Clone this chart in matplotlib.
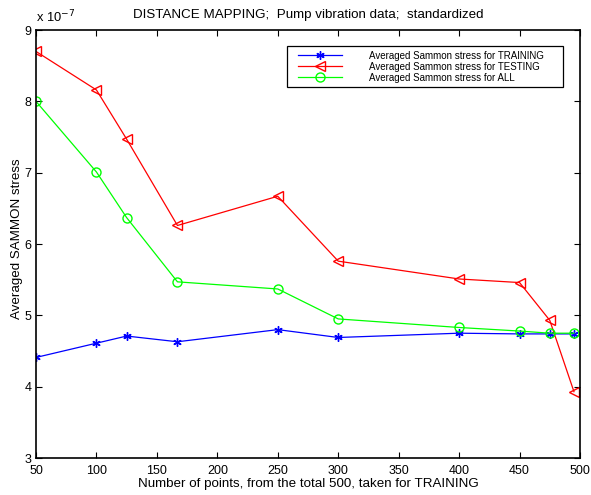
import matplotlib
matplotlib.use("Agg")
import matplotlib.pyplot as plt
from matplotlib.patches import Rectangle

# number of training points taken from the total 500
n_points = [50, 100, 125, 167, 250, 300, 400, 450, 475, 495]

# averaged Sammon stress, in units of 1e-7
stress_training = [4.41, 4.61, 4.71, 4.63, 4.80, 4.69, 4.75, 4.74, 4.74, 4.74]
stress_testing = [8.70, 8.16, 7.47, 6.26, 6.67, 5.76, 5.51, 5.46, 4.93, 3.93]
stress_all = [8.00, 7.01, 6.37, 5.47, 5.37, 4.95, 4.83, 4.78, 4.75, 4.75]

x_ticks = [50, 100, 150, 200, 250, 300, 350, 400, 450, 500]
y_ticks = [3, 4, 5, 6, 7, 8, 9]

plt.rcParams['font.family'] = ['Liberation Sans', 'DejaVu Sans']

fig = plt.figure(figsize=(5.91, 4.95), dpi=100)
ax = fig.add_axes([0.0609, 0.0747, 0.9205, 0.8646])

# matlab-like asterisk: 6 spokes
ax.plot(n_points, stress_training, color='blue', marker=(6, 2, 0), markersize=6,
        markeredgewidth=1.0, linewidth=0.9, label='Averaged Sammon stress for TRAINING')
ax.plot(n_points, stress_testing, color='red', marker='<', markersize=7,
        markerfacecolor='none', linewidth=0.9, label='Averaged Sammon stress for TESTING')
ax.plot(n_points, stress_all, color=(0, 1, 0), marker='o', markersize=6.5,
        markerfacecolor='none', linewidth=0.9, label='Averaged Sammon stress for ALL')

ax.set_xlim(50, 500)
ax.set_ylim(3, 9)
ax.set_xticks(x_ticks)
ax.set_yticks(y_ticks)
ax.tick_params(direction='in', top=True, right=True, labelsize=9, length=4)
ax.tick_params(axis='x', pad=5)
ax.tick_params(axis='y', pad=3)
for s in ax.spines.values():
    s.set_linewidth(1.2)

ax.set_title('DISTANCE MAPPING;  Pump vibration data;  standardized', fontsize=9.6, pad=9)
ax.set_xlabel('Number of points, from the total 500, taken for TRAINING', fontsize=9.6, labelpad=1)
ax.set_ylabel('Averaged SAMMON stress', fontsize=9.6)
ax.yaxis.set_label_coords(-0.024, 0.513)
ax.text(0.0, 1.012, r'x 10$^{-7}$', transform=ax.transAxes, fontsize=9.3, va='bottom', ha='left')

# legend without its own frame, box drawn separately to match the wide padding
leg = ax.legend(loc='upper left', bbox_to_anchor=(0.4816, 0.952), borderaxespad=0,
                fontsize=7, handlelength=4.5, handletextpad=2.8, labelspacing=0.1,
                borderpad=0, frameon=False)
box = Rectangle((0.4614, 0.8668), 0.5074, 0.0958, transform=ax.transAxes,
                facecolor='white', edgecolor='black', linewidth=0.9, zorder=4)
ax.add_patch(box)
leg.set_zorder(5)

fig.savefig('out.png', dpi=100)
